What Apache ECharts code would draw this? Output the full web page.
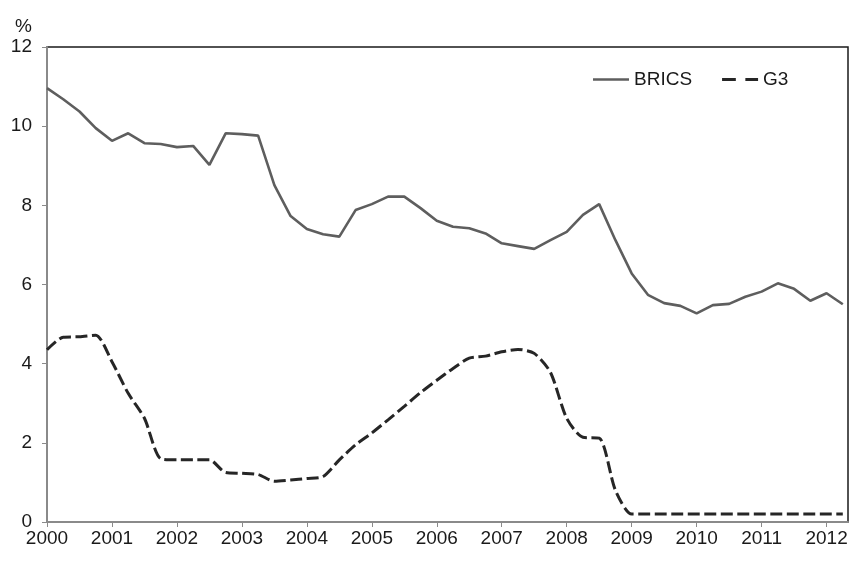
<!DOCTYPE html>
<html>
<head>
<meta charset="utf-8">
<script src="https://cdn.jsdelivr.net/npm/echarts@6/dist/echarts.min.js"></script>
<style>
  html, body { margin: 0; padding: 0; background: #fff; }
  #chart { width: 852px; height: 562px; }
</style>
</head>
<body>
<div id="chart"></div>
<script>
// Quarter positions (decimal years: Q1 = .00, Q2 = .25, Q3 = .50, Q4 = .75)
const quarters = [
  2000.00, 2000.25, 2000.50, 2000.75,
  2001.00, 2001.25, 2001.50, 2001.75,
  2002.00, 2002.25, 2002.50, 2002.75,
  2003.00, 2003.25, 2003.50, 2003.75,
  2004.00, 2004.25, 2004.50, 2004.75,
  2005.00, 2005.25, 2005.50, 2005.75,
  2006.00, 2006.25, 2006.50, 2006.75,
  2007.00, 2007.25, 2007.50, 2007.75,
  2008.00, 2008.25, 2008.50, 2008.75,
  2009.00, 2009.25, 2009.50, 2009.75,
  2010.00, 2010.25, 2010.50, 2010.75,
  2011.00, 2011.25, 2011.50, 2011.75,
  2012.00, 2012.25
];

const brics = [
  10.96, 10.68, 10.37, 9.95,
  9.63, 9.82, 9.57, 9.55,
  9.47, 9.50, 9.02, 9.82,
  9.80, 9.76, 8.51, 7.73,
  7.40, 7.27, 7.21, 7.88,
  8.03, 8.22, 8.22, 7.93,
  7.61, 7.46, 7.42, 7.29,
  7.04, 6.97, 6.90, 7.12,
  7.33, 7.76, 8.03, 7.12,
  6.28, 5.74, 5.53, 5.46,
  5.27, 5.48, 5.51, 5.69,
  5.82, 6.03, 5.89, 5.59,
  5.78, 5.50
];

const g3 = [
  4.35, 4.67, 4.68, 4.72,
  4.05, 3.25, 2.62, 1.60,
  1.57, 1.57, 1.57, 1.25,
  1.23, 1.20, 1.03, 1.06,
  1.10, 1.15, 1.57, 1.95,
  2.25, 2.58, 2.92, 3.27,
  3.58, 3.88, 4.14, 4.19,
  4.30, 4.36, 4.26, 3.78,
  2.62, 2.14, 2.12, 0.80,
  0.20, 0.20, 0.20, 0.20,
  0.20, 0.20, 0.20, 0.20,
  0.20, 0.20, 0.20, 0.20,
  0.20, 0.20
];

const yTicks = [0, 2, 4, 6, 8, 10, 12];
const xYears = [2000, 2001, 2002, 2003, 2004, 2005, 2006, 2007, 2008, 2009, 2010, 2011, 2012];

const FONT = '"Liberation Sans", Arial, Helvetica, sans-serif';
const TEXT = '#1a1a1a';
const BRICS_COLOR = '#5e5e5e';
const G3_COLOR = '#262626';

const chart = echarts.init(document.getElementById('chart'), null, { renderer: 'canvas' });

chart.setOption({
  animation: false,
  backgroundColor: '#ffffff',
  textStyle: { fontFamily: FONT },
  title: {
    text: '%',
    left: 15,
    top: 17,
    padding: 0,
    textStyle: { fontFamily: FONT, fontSize: 19, fontWeight: 'normal', color: TEXT }
  },
  legend: {
    left: 593,
    top: 70,
    padding: 0,
    itemGap: 30,
    itemWidth: 36,
    itemHeight: 14,
    symbolKeepAspect: true,
    textStyle: { fontFamily: FONT, fontSize: 19, color: TEXT },
    data: [
      { name: 'BRICS', icon: 'path://M0 0H36V2.6H0Z', itemStyle: { color: BRICS_COLOR } },
      { name: 'G3', icon: 'path://M0 0H13V3H0Z M22 0H34V3H22Z', itemStyle: { color: G3_COLOR } }
    ]
  },
  grid: {
    left: 47,
    right: 4,
    top: 47,
    bottom: 40,
    show: true,
    borderColor: '#1a1a1a',
    borderWidth: 1.5,
    backgroundColor: 'transparent'
  },
  xAxis: {
    type: 'value',
    min: xYears[0],
    max: 2012.33,
    interval: 1,
    axisLine: { show: true, onZero: false, lineStyle: { color: '#8a8a8a', width: 2 } },
    axisTick: { show: true, inside: false, length: 5, lineStyle: { color: '#8a8a8a', width: 1 } },
    splitLine: { show: false },
    axisLabel: {
      margin: 7,
      fontFamily: FONT,
      fontSize: 19,
      color: TEXT,
      showMaxLabel: false,
      formatter: function (v) { return xYears.indexOf(v) >= 0 ? String(v) : ''; }
    }
  },
  yAxis: {
    type: 'value',
    min: yTicks[0],
    max: yTicks[yTicks.length - 1],
    interval: 2,
    axisLine: { show: true, lineStyle: { color: '#8a8a8a', width: 2 } },
    axisTick: { show: true, inside: false, length: 5, lineStyle: { color: '#8a8a8a', width: 1 } },
    splitLine: { show: false },
    axisLabel: {
      margin: 15,
      fontFamily: FONT,
      fontSize: 19,
      color: TEXT,
      formatter: function (v) { return String(v); }
    }
  },
  series: [
    {
      name: 'BRICS',
      type: 'line',
      symbol: 'none',
      data: quarters.map(function (q, i) { return [q, brics[i]]; }),
      lineStyle: { color: BRICS_COLOR, width: 2.6 },
      itemStyle: { color: BRICS_COLOR },
      z: 3
    },
    {
      name: 'G3',
      type: 'line',
      symbol: 'none',
      smooth: 0.25,
      data: quarters.map(function (q, i) { return [q, g3[i]]; }),
      lineStyle: { color: G3_COLOR, width: 3, type: [12, 4.5] },
      itemStyle: { color: G3_COLOR },
      z: 3
    }
  ]
});
</script>
</body>
</html>
